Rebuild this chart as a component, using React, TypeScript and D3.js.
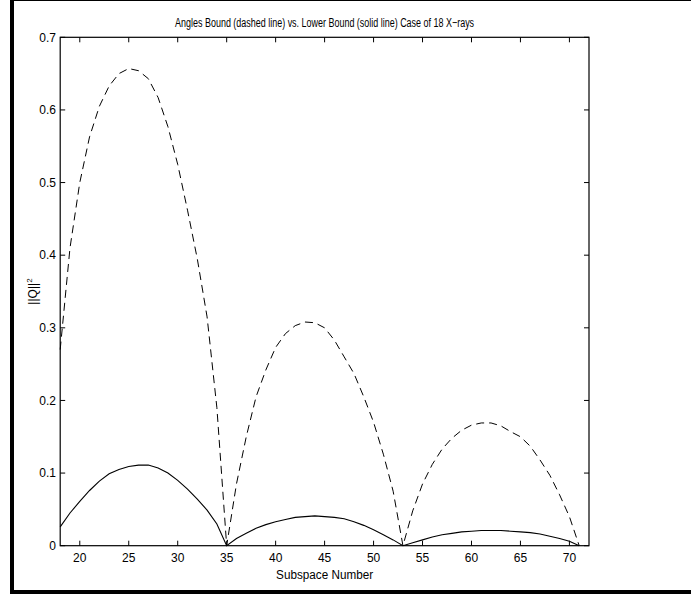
import React from "react";
import * as d3 from "d3";

const subspace = [18,19,20,21,22,23,24,25,26,27,28,29,30,31,32,33,34,35,36,37,38,39,40,41,42,43,44,45,46,47,48,49,50,51,52,53,54,55,56,57,58,59,60,61,62,63,64,65,66,67,68,69,70,71];

const anglesBound = [0.27,0.41,0.50,0.563,0.605,0.633,0.650,0.657,0.654,0.643,0.617,0.577,0.525,0.462,0.395,0.315,0.19,0.0,
  0.085,0.15,0.205,0.242,0.273,0.292,0.303,0.308,0.307,0.300,0.283,0.26,0.237,0.205,0.17,0.126,0.075,0.0,
  0.048,0.085,0.112,0.133,0.148,0.159,0.166,0.169,0.169,0.165,0.157,0.150,0.137,0.118,0.097,0.070,0.040,0.0];

const lowerBound = [0.026,0.045,0.061,0.076,0.089,0.099,0.105,0.109,0.111,0.111,0.107,0.100,0.090,0.078,0.064,0.049,0.030,0.0,
  0.010,0.017,0.024,0.029,0.033,0.036,0.039,0.040,0.041,0.040,0.039,0.037,0.033,0.028,0.022,0.015,0.008,0.0,
  0.004,0.008,0.012,0.015,0.017,0.019,0.020,0.021,0.021,0.021,0.020,0.019,0.018,0.016,0.013,0.010,0.006,0.0];

const xTicks = [20,25,30,35,40,45,50,55,60,65,70];
const yTicks = [0,0.1,0.2,0.3,0.4,0.5,0.6,0.7];
const yTickLabels = ["0","0.1","0.2","0.3","0.4","0.5","0.6","0.7"];

const titleText = "Angles Bound (dashed line) vs. Lower Bound (solid line) Case of 18 X\u2212rays";
const xLabel = "Subspace Number";

export default function App() {
  const W = 691, H = 597;
  const left = 60.2, right = 589, top = 37.3, bottom = 545.7;
  const x = d3.scaleLinear().domain([18, 72]).range([left, right]);
  const y = d3.scaleLinear().domain([0, 0.7]).range([bottom, top]);
  const line = d3.line<number>().x((_, i) => x(subspace[i])).y((d) => y(d));
  const tl = 5;
  const font = "Arial, 'Liberation Sans', Helvetica, sans-serif";
  return (
    <svg width={W} height={H} style={{ position: "absolute", left: 0, top: 0, background: "#fff" }}
      fontFamily={font}>
      <rect x={0} y={0} width={W} height={H} fill="#fff" />
      <rect x={12} y={-1} width={700} height={593} fill="none" stroke="#000" strokeWidth={4} />
      {/* plot box */}
      <rect x={left} y={top} width={right - left} height={bottom - top} fill="none" stroke="#000" strokeWidth={1.2} />
      {xTicks.map((t) => (
        <g key={"x" + t}>
          <line x1={x(t)} x2={x(t)} y1={bottom} y2={bottom - tl} stroke="#000" strokeWidth={1} />
          <line x1={x(t)} x2={x(t)} y1={top} y2={top + tl} stroke="#000" strokeWidth={1} />
          <text x={x(t)} y={562} textAnchor="middle" fontSize={12}>{t}</text>
        </g>
      ))}
      {yTicks.map((t, i) => (
        <g key={"y" + t}>
          <line x1={left} x2={left + tl} y1={y(t)} y2={y(t)} stroke="#000" strokeWidth={1} />
          <line x1={right} x2={right - tl} y1={y(t)} y2={y(t)} stroke="#000" strokeWidth={1} />
          <text x={56} y={y(t)} dy="0.35em" textAnchor="end" fontSize={12}>{yTickLabels[i]}</text>
        </g>
      ))}
      <path d={line(anglesBound) || ""} fill="none" stroke="#000" strokeWidth={1} strokeDasharray="8,5" />
      <path d={line(lowerBound) || ""} fill="none" stroke="#000" strokeWidth={1.1} />
      <text x={(left + right) / 2} y={26.5} textAnchor="middle" fontSize={12.5}
        textLength={299} lengthAdjust="spacingAndGlyphs">{titleText}</text>
      <text x={(left + right) / 2} y={579} textAnchor="middle" fontSize={12}
        textLength={97} lengthAdjust="spacingAndGlyphs">{xLabel}</text>
      <text transform={`translate(37,${(top + bottom) / 2}) rotate(-90)`} textAnchor="middle" fontSize={12}>
        ||Q||<tspan dy={-5} fontSize={8}>2</tspan>
      </text>
    </svg>
  );
}
